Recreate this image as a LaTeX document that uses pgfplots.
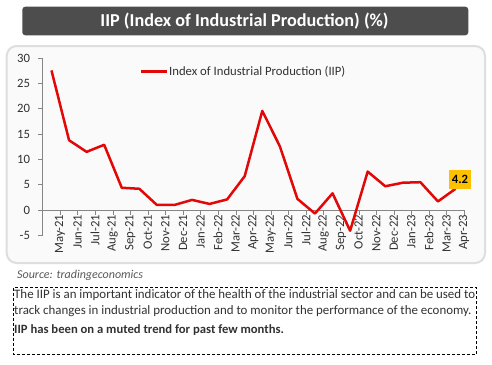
\documentclass[border=0pt]{standalone}
\usepackage{pgfplots}
\pgfplotsset{compat=1.18}
\usepackage{fontspec}
\setmainfont{Carlito}
\definecolor{iipred}{RGB}{226,8,8}
\definecolor{titlegray}{RGB}{77,77,77}
\definecolor{panelgray}{RGB}{222,222,222}
\definecolor{panelfill}{RGB}{250,250,250}
\definecolor{axgray}{RGB}{134,134,134}
\definecolor{txtgray}{RGB}{50,50,50}
\definecolor{srcgray}{RGB}{89,89,89}
\definecolor{gold}{RGB}{255,192,0}
\pgfplotstableread{
x y
0 27.6
1 13.8
2 11.5
3 12.9
4 4.4
5 4.2
6 1.0
7 1.0
8 2.0
9 1.2
10 2.1
11 6.7
12 19.6
13 12.6
14 2.2
15 -0.7
16 3.3
17 -4.1
18 7.6
19 4.7
20 5.4
21 5.5
22 1.7
23 4.2
}\iipdata
\begin{document}
\begin{tikzpicture}[x=1bp,y=1bp]
\path[use as bounding box] (0,0) rectangle (492,364);
\fill[white] (0,0) rectangle (492,364);
\draw[rounded corners=10bp, draw=panelgray, line width=2bp, fill=panelfill] (6.7,101) rectangle (485,318);
\fill[rounded corners=3bp, titlegray] (22.3,328.7) rectangle (468.3,357.3);
\node[text=white, font=\fontsize{18.2bp}{21bp}\selectfont\bfseries, inner sep=0] at (244.5,343) {IIP (Index of Industrial Production) (\%)};
\begin{axis}[
  at={(42.7bp,128.7bp)}, anchor=south west,
  scale only axis, width=421.6bp, height=177bp,
  xmin=-0.5, xmax=23.5, ymin=-5, ymax=30,
  axis x line=middle, axis y line=left,
  axis line style={-, draw=axgray, line width=0.8bp},
  hide obscured x ticks=false, hide obscured y ticks=false,
  ytick={-5,0,...,30},
  xtick={0,...,23},
  xticklabels={May-21,Jun-21,Jul-21,Aug-21,Sep-21,Oct-21,Nov-21,Dec-21,Jan-22,Feb-22,Mar-22,Apr-22,May-22,Jun-22,Jul-22,Aug-22,Sep-22,Oct-22,Nov-22,Dec-22,Jan-23,Feb-23,Mar-23,Apr-23},
  minor xtick={-0.5,0.5,...,23.5},
  x tick style={draw=none},
  minor x tick style={draw=axgray, line width=0.8bp},
  y tick style={draw=axgray, line width=0.8bp},
  tick align=outside,
  major tick length=4.5bp, minor tick length=4.5bp,
  x tick label style={rotate=90, anchor=east, font=\fontsize{12.7bp}{15bp}\selectfont, text=txtgray, inner sep=0pt, yshift=-8.5bp},
  y tick label style={font=\fontsize{12.7bp}{15bp}\selectfont, text=txtgray, inner sep=0pt, xshift=-8bp},
  /pgf/number format/assume math mode=true,
  legend style={draw=none, fill=none, at={(0.2308,0.9243)}, anchor=west, inner sep=0pt,
    font=\fontsize{12.7bp}{15bp}\selectfont, text=txtgray,
    /tikz/every even column/.style={column sep=0pt},
    nodes={inner sep=0.5bp}},
  legend image code/.code={\draw[#1, line width=2.5bp] (0bp,0bp) -- (26bp,0bp);},
  clip=false,
]
\addplot[iipred, line width=2.5bp, mark=none, line join=round] table[x=x, y=y] {\iipdata};
\addlegendentry{Index of Industrial Production (IIP)}
\node[fill=gold, font=\fontsize{12.7bp}{15bp}\selectfont\bfseries, text=black, anchor=south, inner xsep=3bp, minimum height=19bp, xshift=4.5bp, yshift=0bp] at (axis cs:23,4.2) {4.2};
\end{axis}
\node[anchor=base west, inner sep=0, text=srcgray, font=\fontsize{12bp}{14bp}\selectfont\itshape] at (17,85.7) {Source: tradingeconomics};
\draw[dashed, dash pattern=on 3bp off 2bp, line width=1bp] (13.3,76.3) rectangle (476.7,10);
\node[anchor=base west, inner sep=0, text=txtgray, font=\fontsize{12.9bp}{15bp}\selectfont] at (14,65.7) {The IIP is an important indicator of the health of the industrial sector and can be used to};
\node[anchor=base west, inner sep=0, text=txtgray, font=\fontsize{12.9bp}{15bp}\selectfont] at (14,49.7) {track changes in industrial production and to monitor the performance of the economy.};
\node[anchor=base west, inner sep=0, text=txtgray, font=\fontsize{12.65bp}{15bp}\selectfont\bfseries] at (14,30.7) {IIP has been on a muted trend for past few months.};
\end{tikzpicture}
\end{document}
